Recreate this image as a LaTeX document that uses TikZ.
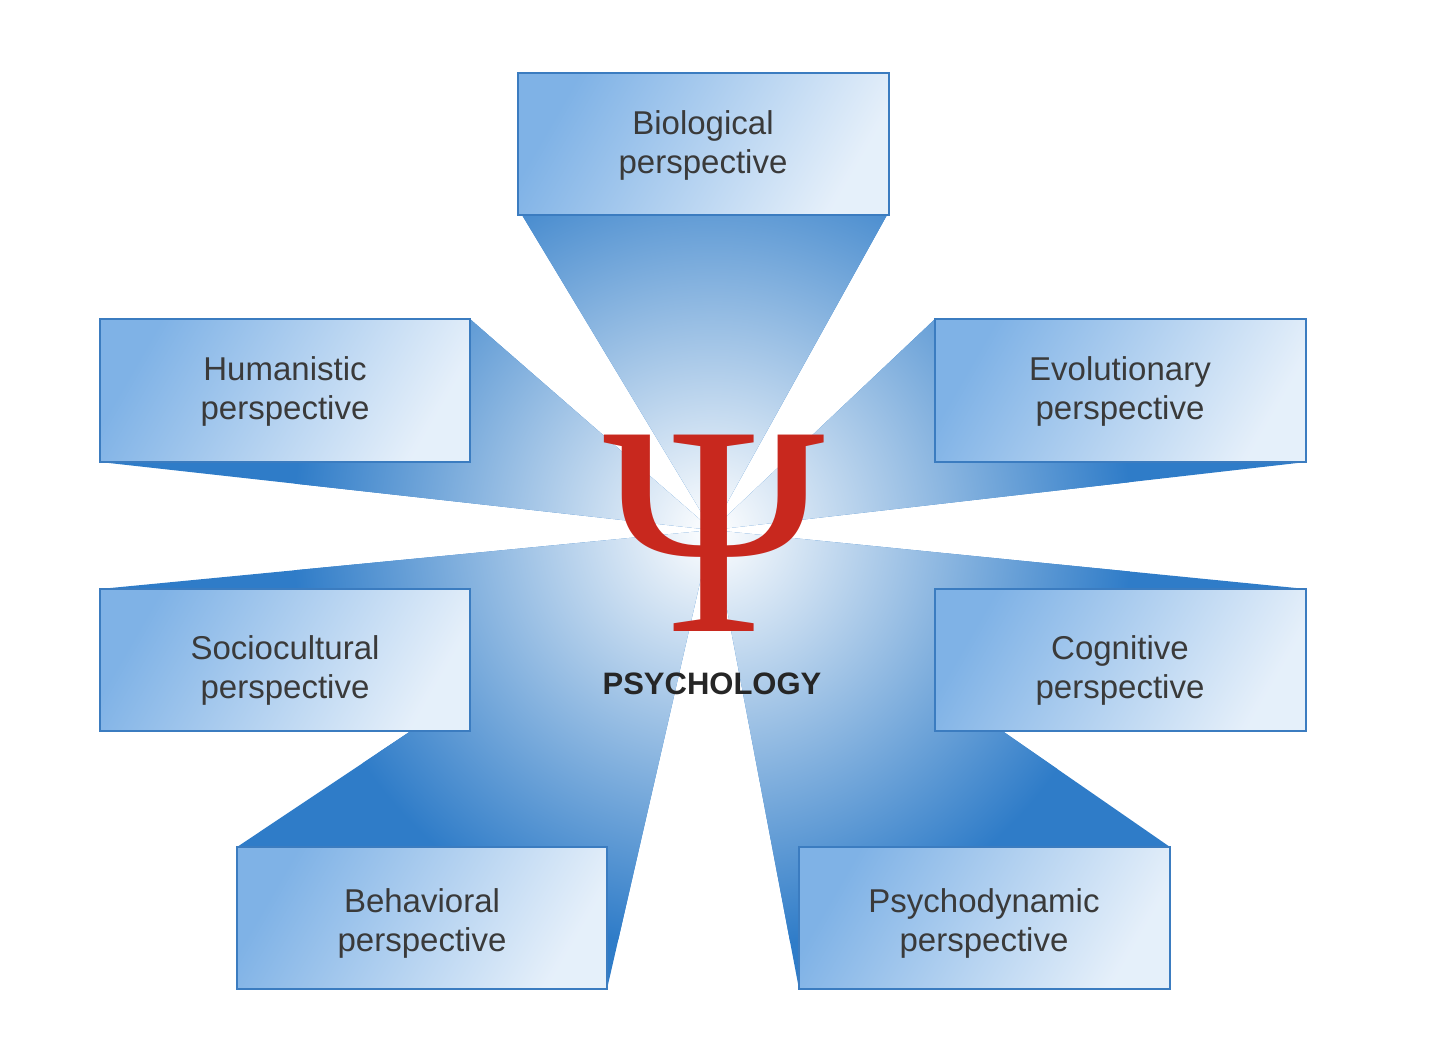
\documentclass[tikz,border=0pt]{standalone}
\usepackage{fontspec}
\setmainfont{Liberation Sans}
\newfontfamily\psifont{Liberation Serif}
\definecolor{beam}{HTML}{2F7CC8}
\definecolor{edge}{HTML}{3B7CC0}
\definecolor{boxl}{HTML}{7FB2E6}
\definecolor{psired}{HTML}{C8281E}
\definecolor{txt}{HTML}{3A3A3A}
\tikzset{
 pbox/.style={draw=edge, line width=2pt, left color=boxl, right color=boxl!20, shading angle=60},
 plabel/.style={text=txt, align=center, font=\fontsize{33}{39}\selectfont}
}
\begin{document}
\begin{tikzpicture}[x=1pt,y=-1pt]
\useasboundingbox (0,0) rectangle (1440,1042);
\coordinate (c) at (712,530);
\begin{scope}
\clip (522,215) -- (887,215) -- (c) -- cycle
 (470,319) -- (470,462) -- (100,462) -- (c) -- cycle
 (935,319) -- (935,462) -- (1306,462) -- (c) -- cycle
 (100,589) -- (470,589) -- (470,731) -- (c) -- cycle
 (1306,589) -- (935,589) -- (935,731) -- (c) -- cycle
 (237,847) -- (607,847) -- (607,989) -- (c) -- cycle
 (1170,847) -- (799,847) -- (799,989) -- (c) -- cycle;
\fill[beam] (0,0) rectangle (1440,1042);
\shade[inner color=white, outer color=beam] (c) circle (420);
\end{scope}
\node[text=psired, font=\psifont\fontsize{300}{300}\selectfont, inner sep=0] (psi) at (714,533) {Ψ};
\node[text=black!85, font=\bfseries\fontsize{31}{36}\selectfont, inner sep=0] (psy) at (712,684) {PSYCHOLOGY};
\draw[pbox] (518,73) rectangle (889,215);
\node[plabel] (bio) at (703,145) {Biological\\perspective};
\draw[pbox] (100,319) rectangle (470,462);
\node[plabel] (hum) at (285,391) {Humanistic\\perspective};
\draw[pbox] (935,319) rectangle (1306,462);
\node[plabel] (evo) at (1120,391) {Evolutionary\\perspective};
\draw[pbox] (100,589) rectangle (470,731);
\node[plabel] (soc) at (285,670) {Sociocultural\\perspective};
\draw[pbox] (935,589) rectangle (1306,731);
\node[plabel] (cog) at (1120,670) {Cognitive\\perspective};
\draw[pbox] (237,847) rectangle (607,989);
\node[plabel] (beh) at (422,923) {Behavioral\\perspective};
\draw[pbox] (799,847) rectangle (1170,989);
\node[plabel] (dyn) at (984,923) {Psychodynamic\\perspective};
\end{tikzpicture}
\end{document}
